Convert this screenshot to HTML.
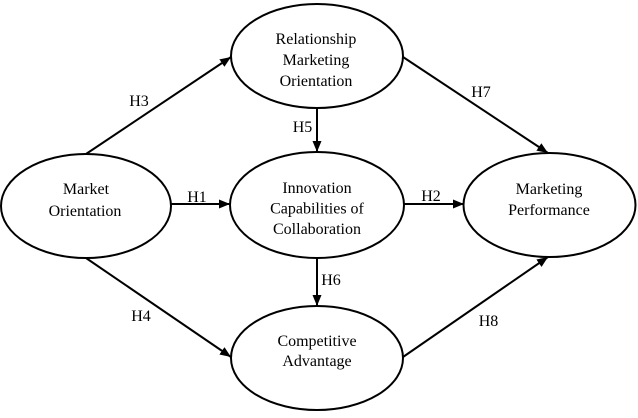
<!DOCTYPE html>
<html>
<head>
<meta charset="utf-8">
<style>
  html, body { margin: 0; padding: 0; background: #ffffff; }
  body { width: 638px; height: 418px; overflow: hidden; font-family: "Liberation Serif", "DejaVu Serif", "Times New Roman", serif; }
  svg { display: block; }
  svg text { font-family: "Liberation Serif", "DejaVu Serif", "Times New Roman", serif; font-size: 16px; fill: #000; }
</style>
</head>
<body>
<svg width="638" height="418" viewBox="0 0 638 418" xmlns="http://www.w3.org/2000/svg" font-family="Liberation Serif, DejaVu Serif, serif">
  <defs>
    <marker id="ah" markerUnits="userSpaceOnUse" markerWidth="12" markerHeight="10" refX="11" refY="4.5" orient="auto">
      <path d="M0,0 L11,4.5 L0,9 Z" fill="#000"/>
    </marker>
  </defs>

  <!-- Ellipses -->
  <g fill="#fff" stroke="#000" stroke-width="2">
    <ellipse cx="86" cy="206" rx="85" ry="52"/>
    <ellipse cx="317" cy="56" rx="86" ry="52"/>
    <ellipse cx="317" cy="205" rx="87" ry="53"/>
    <ellipse cx="317" cy="358" rx="86" ry="52"/>
    <ellipse cx="549.5" cy="205" rx="86" ry="52"/>
  </g>

  <!-- Connectors -->
  <g stroke="#000" stroke-width="2" fill="none" marker-end="url(#ah)">
    <line x1="86" y1="154" x2="231" y2="57"/>
    <line x1="171" y1="204" x2="230" y2="204"/>
    <line x1="317" y1="108" x2="317" y2="152"/>
    <line x1="403" y1="57" x2="548" y2="153"/>
    <line x1="404" y1="204" x2="464" y2="204"/>
    <line x1="86" y1="258" x2="231" y2="357"/>
    <line x1="317" y1="258" x2="317" y2="306"/>
    <line x1="403" y1="357" x2="548" y2="257"/>
  </g>

  <!-- Node labels -->
  <g text-anchor="middle" font-family="Liberation Serif, DejaVu Serif, serif" font-size="16">
    <text x="86" y="194">Market</text>
    <text x="85" y="216">Orientation</text>

    <text x="316" y="44">Relationship</text>
    <text x="316" y="65">Marketing</text>
    <text x="316" y="86">Orientation</text>

    <text x="317" y="193">Innovation</text>
    <text x="317" y="213.5">Capabilities of</text>
    <text x="317" y="234">Collaboration</text>

    <text x="317" y="346">Competitive</text>
    <text x="317" y="366">Advantage</text>

    <text x="549" y="194">Marketing</text>
    <text x="549" y="215">Performance</text>
  </g>

  <!-- Hypothesis labels -->
  <g text-anchor="middle" font-family="Liberation Serif, DejaVu Serif, serif" font-size="16">
    <text x="139" y="106">H3</text>
    <text x="197" y="202">H1</text>
    <text x="302.5" y="132">H5</text>
    <text x="481" y="97">H7</text>
    <text x="431" y="201">H2</text>
    <text x="141" y="321">H4</text>
    <text x="331" y="285">H6</text>
    <text x="488.5" y="326">H8</text>
  </g>
</svg>
</body>
</html>
